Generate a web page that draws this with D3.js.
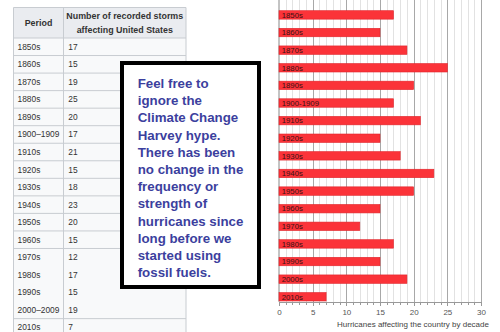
<!DOCTYPE html>
<meta charset="utf-8">
<style>
body { margin: 0; background: #fff; }
svg { display: block; font-family: "Liberation Sans", Arial, sans-serif; }
.grid line { stroke: #e2e2e2; shape-rendering: crispEdges; }
.grid line.major { stroke: #a8a8a8; }
.axis path, .axis line { stroke: #999; shape-rendering: crispEdges; }
.axis text { fill: #555; font-size: 8px; }
</style>
<body>
<script src="https://d3js.org/d3.v7.min.js"></script>
<script>

//
// Data
//

var tablePeriods = ["1850s", "1860s", "1870s", "1880s", "1890s", "1900\u20131909", "1910s", "1920s",
  "1930s", "1940s", "1950s", "1960s", "1970s", "1980s", "1990s", "2000\u20132009", "2010s"];
var chartPeriods = ["1850s", "1860s", "1870s", "1880s", "1890s", "1900-1909", "1910s", "1920s",
  "1930s", "1940s", "1950s", "1960s", "1970s", "1980s", "1990s", "2000s", "2010s"];
var storms = [17, 15, 19, 25, 20, 17, 21, 15, 18, 23, 20, 15, 12, 17, 15, 19, 7];
var xTicks = [0, 5, 10, 15, 20, 25, 30];
var headers = ["Period", ["Number of recorded storms", "affecting United States"]];
var xTitle = "Hurricanes affecting the country by decade";
var note = ["Feel free to", "ignore the", "Climate Change", "Harvey hype.", "There has been",
  "no change in the", "frequency or", "strength of", "hurricanes since", "long before we",
  "started using", "fossil fuels."];

// rows of the table with no rule beneath them (merged look)
var noRuleBelow = [12, 13, 14];

var svg = d3.select("body").append("svg")
    .attr("width", 500)
    .attr("height", 332);

//
// Table
//

var tbl = {left: 13.5, mid: 63.5, right: 186, top: 7.5, headBottom: 38};
var rowY = d3.scaleBand()
    .domain(d3.range(tablePeriods.length))
    .range([tbl.headBottom, tbl.headBottom + 17.54 * tablePeriods.length]);

var table = svg.append("g").attr("id", "table");

table.append("rect")
    .attr("x", tbl.left).attr("y", tbl.top)
    .attr("width", tbl.right - tbl.left).attr("height", tbl.headBottom - tbl.top)
    .attr("fill", "#eaecf0");

table.append("rect")
    .attr("x", tbl.left).attr("y", tbl.headBottom)
    .attr("width", tbl.right - tbl.left).attr("height", 332 - tbl.headBottom)
    .attr("fill", "#f8f9fa");

// horizontal rules
var rules = [tbl.top, tbl.headBottom];
tablePeriods.forEach(function(p, i) {
  if (noRuleBelow.indexOf(i) < 0) rules.push(rowY(i) + rowY.bandwidth());
});
table.selectAll(".hrule").data(rules).enter()
  .append("line")
    .attr("class", "hrule")
    .attr("x1", tbl.left).attr("x2", tbl.right)
    .attr("y1", d => d).attr("y2", d => d)
    .attr("stroke", "#c8ccd1").attr("stroke-width", 1);

table.selectAll(".vrule").data([tbl.left, tbl.mid, tbl.right]).enter()
  .append("line")
    .attr("class", "vrule")
    .attr("x1", d => d).attr("x2", d => d)
    .attr("y1", tbl.top).attr("y2", 332)
    .attr("stroke", "#c8ccd1").attr("stroke-width", 1);

table.append("text")
    .attr("x", (tbl.left + tbl.mid) / 2).attr("y", 25.8)
    .attr("text-anchor", "middle")
    .attr("font-size", "8.9px").attr("font-weight", "bold").attr("fill", "#333")
    .text(headers[0]);

table.selectAll(".head2").data(headers[1]).enter()
  .append("text")
    .attr("class", "head2")
    .attr("x", (tbl.mid + tbl.right) / 2)
    .attr("y", (d, i) => 18.8 + i * 14.4)
    .attr("text-anchor", "middle")
    .attr("font-size", "8.9px").attr("font-weight", "bold").attr("fill", "#333")
    .text(d => d);

var rows = table.selectAll(".row").data(tablePeriods).enter()
  .append("g")
    .attr("class", "row")
    .attr("transform", (d, i) => `translate(0, ${rowY(i) + rowY.bandwidth() / 2 + 3})`);

rows.append("text")
    .attr("x", tbl.left + 4)
    .attr("font-size", "8.4px").attr("fill", "#333")
    .text(d => d);

rows.append("text")
    .attr("x", tbl.mid + 4.8)
    .attr("font-size", "8.4px").attr("fill", "#333")
    .text((d, i) => storms[i]);

//
// Bar chart
//

var x = d3.scaleLinear().domain([0, 30]).range([279, 481]);
var y = d3.scaleBand()
    .domain(chartPeriods)
    .range([10.7, 301])
    .paddingInner(0.52)
    .paddingOuter(0);
var axisY = 301.7;

var chart = svg.append("g").attr("id", "barChart");

chart.append("g")
    .attr("class", "grid")
  .selectAll("line").data(d3.range(1, 31)).enter()
  .append("line")
    .attr("class", d => d % 5 === 0 ? "major" : "minor")
    .attr("x1", d => Math.round(x(d)) + 0.5).attr("x2", d => Math.round(x(d)) + 0.5)
    .attr("y1", 0).attr("y2", axisY);

chart.append("g")
    .attr("class", "axis")
    .attr("transform", `translate(0, ${axisY})`)
    .call(d3.axisBottom(x).ticks(30).tickSize(3).tickFormat(""))
    .call(g => g.select(".domain").remove());

chart.append("g")
    .attr("class", "axis")
    .attr("transform", `translate(0, ${axisY})`)
    .call(d3.axisBottom(x).tickValues(xTicks).tickSize(4).tickPadding(4).tickSizeOuter(0));

chart.append("line")
    .attr("x1", x(0)).attr("x2", x(0))
    .attr("y1", 0).attr("y2", axisY)
    .attr("stroke", "#888");

chart.selectAll(".bar").data(storms).enter()
  .append("rect")
    .attr("class", "bar")
    .attr("x", x(0))
    .attr("y", (d, i) => y(chartPeriods[i]))
    .attr("width", d => x(d) - x(0))
    .attr("height", y.bandwidth())
    .attr("fill", "#fb3339")
    .attr("stroke", "#e0252b")
    .attr("stroke-width", 0.6);

chart.selectAll(".barLabel").data(chartPeriods).enter()
  .append("text")
    .attr("class", "barLabel")
    .attr("x", x(0) + 2.7)
    .attr("y", d => y(d) + y.bandwidth() / 2 + 2.8)
    .attr("font-size", "7.8px")
    .attr("fill", "#3a1214")
    .text(d => d);

chart.append("text")
    .attr("x", 337)
    .attr("y", 327)
    .attr("font-size", "8px")
    .attr("fill", "#444")
    .text(xTitle);

//
// Note box
//

var box = svg.append("g").attr("id", "note");

box.append("rect")
    .attr("x", 122).attr("y", 63)
    .attr("width", 137).attr("height", 224)
    .attr("fill", "#fff")
    .attr("stroke", "#000")
    .attr("stroke-width", 4);

box.selectAll("text").data(note).enter()
  .append("text")
    .attr("x", 137.7)
    .attr("y", (d, i) => 88 + i * 17.2)
    .attr("font-size", "13.3px")
    .attr("font-weight", "bold")
    .attr("fill", "#3c3f9e")
    .text(d => d);

</script>
</body>
